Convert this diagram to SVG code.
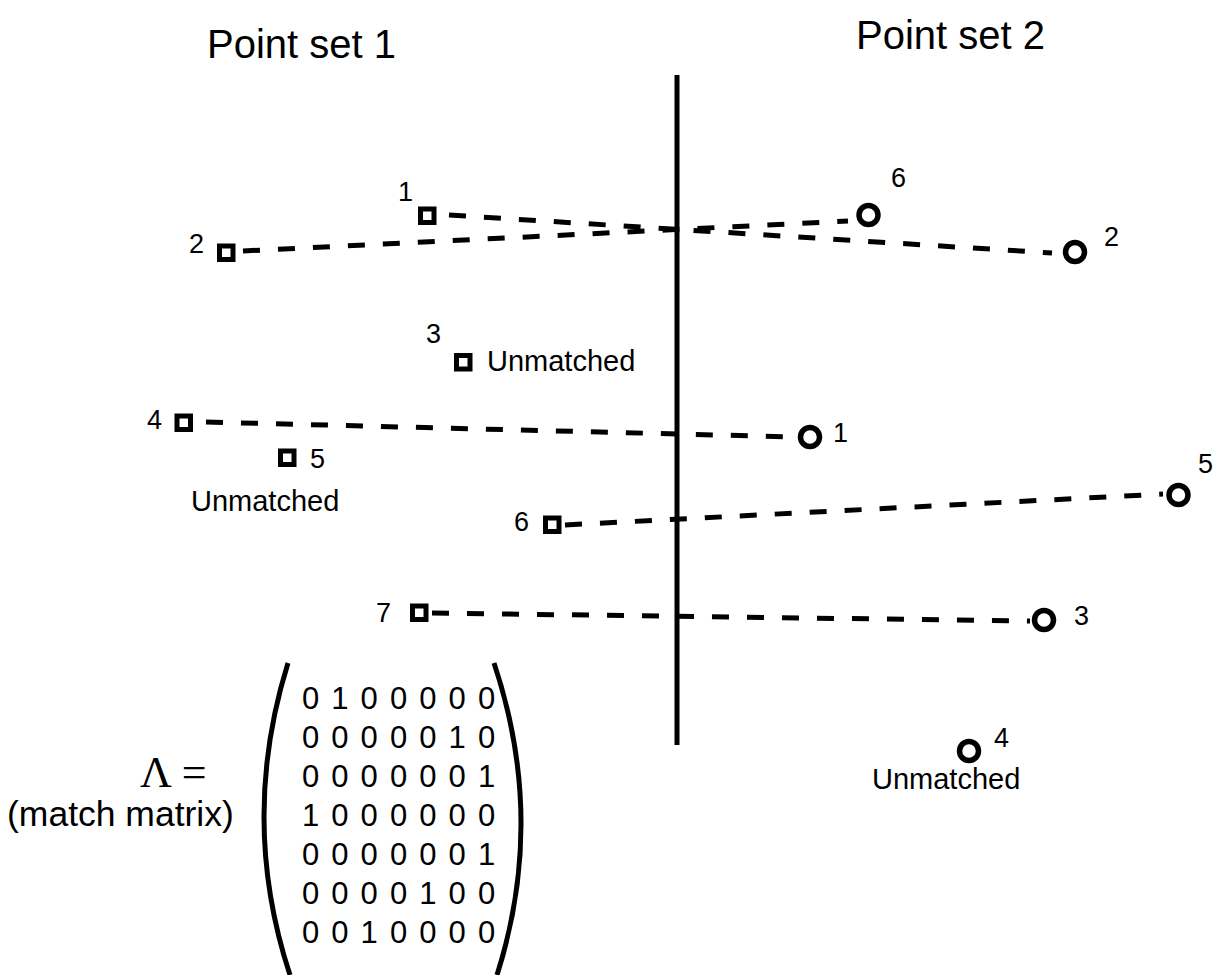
<svg xmlns="http://www.w3.org/2000/svg" width="1215" height="975" viewBox="0 0 1215 975">
<style>
  text { font-family: "Liberation Sans", Arial, Helvetica, sans-serif; fill: #000; }
  .title { font-size: 40px; }
  .lbl { font-size: 27px; }
  .um { font-size: 29px; }
  .mx { font-size: 31px; }
  .mm { font-size: 35.5px; }
  .lam { font-family: "Liberation Serif", "Times New Roman", serif; font-size: 44px; }
  .sq { fill: #fff; stroke: #000; stroke-width: 5; }
  .ci { fill: #fff; stroke: #000; stroke-width: 5.5; }
  .match { stroke: #000; stroke-width: 5; stroke-dasharray: 17 18; fill: none; }
  .bar { stroke: #000; stroke-width: 5; fill: none; }
</style>
<rect width="1215" height="975" fill="#fff"/>

<text class="title" x="207" y="58">Point set 1</text>
<text class="title" x="856" y="49">Point set 2</text>

<line id="divider" class="bar" x1="677" y1="75" x2="677" y2="745"/>

<g id="connectors">
  <line class="match" x1="449" y1="215" x2="1052" y2="253"/>
  <line class="match" x1="243" y1="251" x2="848" y2="221"/>
  <line class="match" x1="206" y1="422" x2="795" y2="437"/>
  <line class="match" x1="565" y1="525" x2="1163" y2="494"/>
  <line class="match" x1="432" y1="613" x2="1030" y2="621"/>
</g>

<g id="p1-1"><rect class="sq" x="420.5" y="209" width="13.5" height="13.5"/><text class="lbl" x="398" y="201">1</text></g>
<g id="p1-2"><rect class="sq" x="219.5" y="246" width="13.5" height="13.5"/><text class="lbl" x="189" y="253">2</text></g>
<g id="p1-3"><rect class="sq" x="456.5" y="355.5" width="13.5" height="13.5"/><text class="lbl" x="426" y="343">3</text><text class="um" x="487" y="371">Unmatched</text></g>
<g id="p1-4"><rect class="sq" x="177" y="416" width="13.5" height="13.5"/><text class="lbl" x="147" y="429">4</text></g>
<g id="p1-5"><rect class="sq" x="280.5" y="451" width="13.5" height="13.5"/><text class="lbl" x="310" y="468">5</text><text class="um" x="191" y="511">Unmatched</text></g>
<g id="p1-6"><rect class="sq" x="545.5" y="518" width="13.5" height="13.5"/><text class="lbl" x="514" y="531">6</text></g>
<g id="p1-7"><rect class="sq" x="412.5" y="606" width="13.5" height="13.5"/><text class="lbl" x="376" y="622">7</text></g>

<g id="p2-6"><circle class="ci" cx="868.5" cy="215" r="9.5"/><text class="lbl" x="891" y="187">6</text></g>
<g id="p2-2"><circle class="ci" cx="1075" cy="252" r="9.5"/><text class="lbl" x="1104" y="246">2</text></g>
<g id="p2-1"><circle class="ci" cx="810" cy="437" r="9.5"/><text class="lbl" x="833" y="442">1</text></g>
<g id="p2-5"><circle class="ci" cx="1178.5" cy="495" r="9.5"/><text class="lbl" x="1198" y="473">5</text></g>
<g id="p2-3"><circle class="ci" cx="1044" cy="620" r="9.5"/><text class="lbl" x="1074" y="625">3</text></g>
<g id="p2-4"><circle class="ci" cx="969" cy="751" r="9.5"/><text class="lbl" x="994" y="747">4</text><text class="um" x="872" y="789">Unmatched</text></g>

<g id="matrix">
  <text class="lam" x="140" y="787">Λ =</text>
  <text class="mm" x="7" y="826">(match matrix)</text>
  <path class="bar" d="M288,663 Q239,820 290,975"/>
  <path class="bar" d="M494,663 Q546.5,820 497,975"/>
  <text class="mx" x="302 331.3 360.6 390 419.2 448.5 478" y="709">0100000</text>
  <text class="mx" x="302 331.3 360.6 390 419.2 448.5 478" y="748">0000010</text>
  <text class="mx" x="302 331.3 360.6 390 419.2 448.5 478" y="787">0000001</text>
  <text class="mx" x="302 331.3 360.6 390 419.2 448.5 478" y="826">1000000</text>
  <text class="mx" x="302 331.3 360.6 390 419.2 448.5 478" y="865">0000001</text>
  <text class="mx" x="302 331.3 360.6 390 419.2 448.5 478" y="904">0000100</text>
  <text class="mx" x="302 331.3 360.6 390 419.2 448.5 478" y="943">0010000</text>
</g>
</svg>
